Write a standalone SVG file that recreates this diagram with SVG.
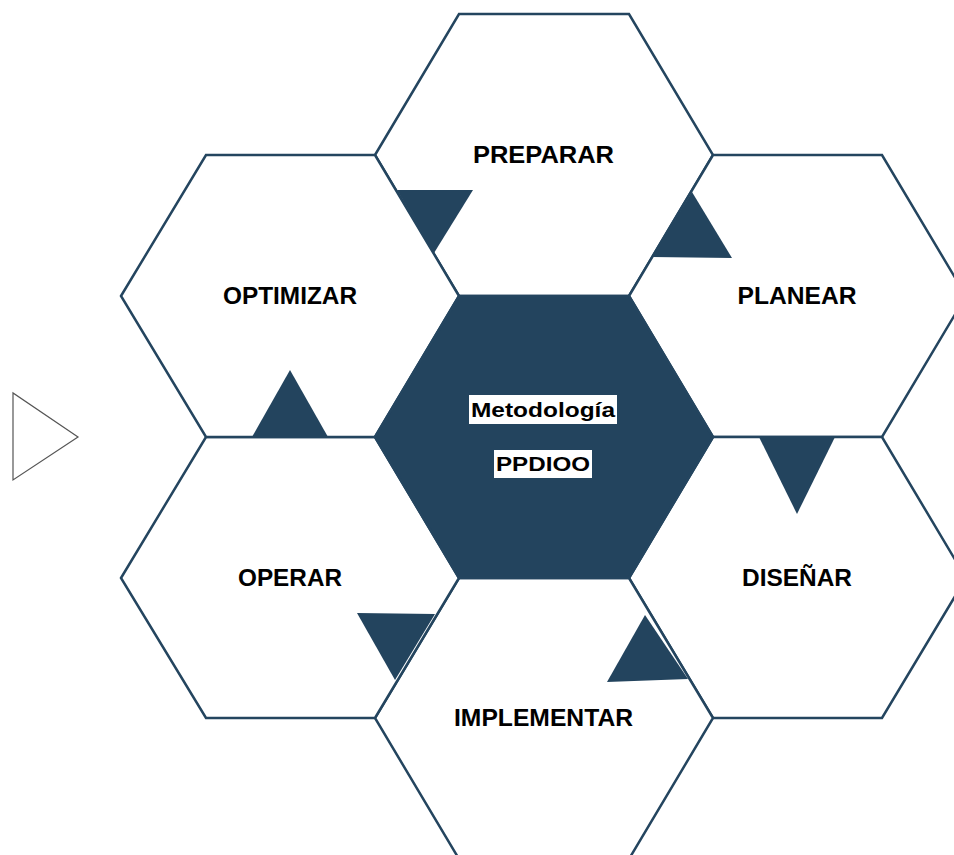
<svg xmlns="http://www.w3.org/2000/svg" width="954" height="855" viewBox="0 0 954 855">
<style>
.hex{fill:#ffffff;stroke:#24455f;stroke-width:2.5;stroke-linejoin:miter}
.core{fill:#23445e;stroke:#24455f;stroke-width:2.5}
.tri{fill:#23445e;stroke:none}
.lbl{font-family:"Liberation Sans",Arial,sans-serif;font-weight:bold;font-size:23px;fill:#000000;text-anchor:middle}
.box{fill:#ffffff}
</style>
<rect width="954" height="855" fill="#ffffff"/>
<g id="preparar">
<polygon class="hex" points="375,155 459,14 629,14 713,155 629,296 459,296"/>
<text class="lbl" x="543.5" y="163" textLength="141" lengthAdjust="spacingAndGlyphs">PREPARAR</text>
</g>
<g id="planear">
<polygon class="hex" points="629,296 713,155 882,155 966,296 882,437 713,437"/>
<text class="lbl" x="797" y="304" textLength="119" lengthAdjust="spacingAndGlyphs">PLANEAR</text>
</g>
<g id="disenar">
<polygon class="hex" points="629,578 713,437 882,437 966,578 882,718 713,718"/>
<text class="lbl" x="797" y="586" textLength="110" lengthAdjust="spacingAndGlyphs">DISEÑAR</text>
</g>
<g id="implementar">
<polygon class="hex" points="375,718 459,578 629,578 713,718 629,859 459,859"/>
<text class="lbl" x="543.5" y="726" textLength="179" lengthAdjust="spacingAndGlyphs">IMPLEMENTAR</text>
</g>
<g id="operar">
<polygon class="hex" points="121,578 206,437 375,437 459,578 375,718 206,718"/>
<text class="lbl" x="290" y="586" textLength="104" lengthAdjust="spacingAndGlyphs">OPERAR</text>
</g>
<g id="optimizar">
<polygon class="hex" points="121,296 206,155 375,155 459,296 375,437 206,437"/>
<text class="lbl" x="290" y="304" textLength="134" lengthAdjust="spacingAndGlyphs">OPTIMIZAR</text>
</g>
<g id="metodologia">
<polygon class="core" points="375,437 459,296 629,296 713,437 629,578 459,578"/>
<rect class="box" x="469" y="395" width="148" height="29"/>
<text class="lbl" x="543" y="417" textLength="144" lengthAdjust="spacingAndGlyphs" style="font-size:21px">Metodología</text>
<rect class="box" x="494" y="450" width="98" height="28"/>
<text class="lbl" x="543" y="471" textLength="94" lengthAdjust="spacingAndGlyphs" style="font-size:21px">PPDIOO</text>
</g>
<g id="connectors">
<polygon class="tri" points="397,190 473,190 434,253"/>
<polygon class="tri" points="692,192 732,258 652,257"/>
<polygon class="tri" points="759,437 835,437 797,514"/>
<polygon class="tri" points="645,615 688,679 607,682"/>
<polygon class="tri" points="357,613 435,614 395,680"/>
<polygon class="tri" points="290,370 252,437 328,437"/>
</g>
<g id="start">
<polygon points="13,393 13,480 78,437" fill="#ffffff" stroke="#555555" stroke-width="1.2"/>
</g>
</svg>
